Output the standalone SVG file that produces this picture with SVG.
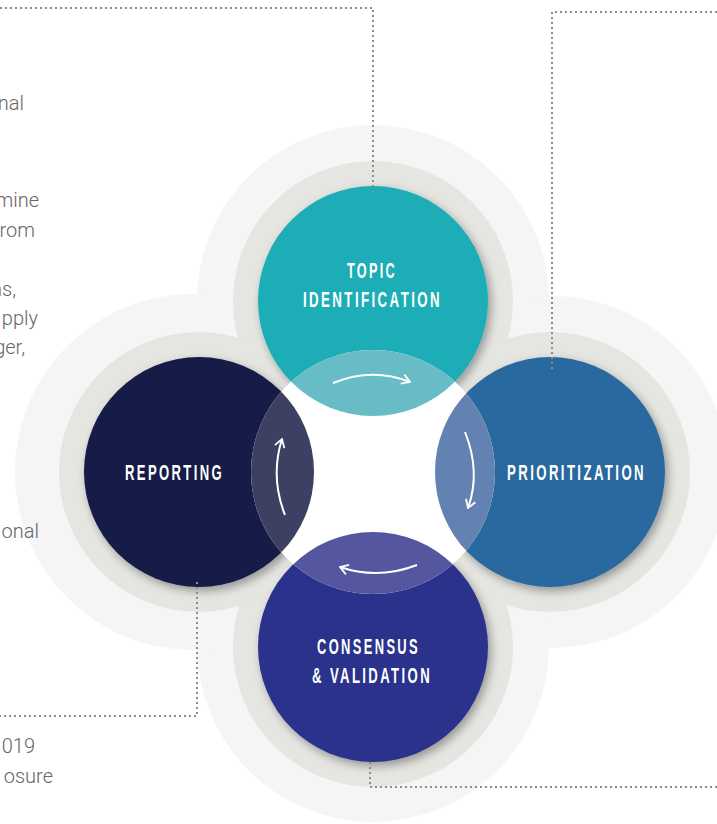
<svg xmlns="http://www.w3.org/2000/svg" width="717" height="824" viewBox="0 0 717 824">
<style>
.outer{fill:#f5f5f5}
.mid{fill:#e5e5e2}
.lbl{font-family:"Liberation Sans",Arial,sans-serif;font-weight:bold;font-size:22px;fill:#ffffff;letter-spacing:4px}
.para{font-family:Roboto,"Liberation Sans",sans-serif;font-weight:300;font-size:20px;fill:#666666}
.dot{fill:none;stroke:#8c8c8c;stroke-width:2;stroke-dasharray:2 3}
.arr{fill:none;stroke:#ffffff;stroke-width:2;marker-end:url(#ah)}
</style>
<defs>
<filter id="sh" x="-20%" y="-20%" width="140%" height="140%">
<feDropShadow dx="3" dy="4" stdDeviation="5" flood-color="#000" flood-opacity="0.35"/>
</filter>
<marker id="ah" viewBox="0 0 10 12" refX="9" refY="6" markerWidth="10" markerHeight="12" markerUnits="userSpaceOnUse" orient="auto">
<path d="M1,1 L9,6 L1,11" fill="none" stroke="#ffffff" stroke-width="1.8"/>
</marker>
<clipPath id="cTop"><circle cx="373" cy="301" r="115"/></clipPath>
<clipPath id="cRight"><circle cx="550" cy="472" r="115"/></clipPath>
<clipPath id="cBottom"><circle cx="373" cy="647" r="115"/></clipPath>
<clipPath id="cLeft"><circle cx="199" cy="472" r="115"/></clipPath>
</defs>
<rect width="717" height="824" fill="#ffffff"/>

<g id="rings">
<circle class="outer" cx="373" cy="301" r="176"/>
<circle class="outer" cx="552" cy="472" r="176"/>
<circle class="outer" cx="373" cy="646" r="176"/>
<circle class="outer" cx="193" cy="472" r="178"/>
<circle class="mid" cx="373" cy="301" r="140"/>
<circle class="mid" cx="550" cy="472" r="140"/>
<circle class="mid" cx="373" cy="647" r="140"/>
<circle class="mid" cx="199" cy="472" r="140"/>
</g>

<g id="paragraph-text">
<text class="para" x="24" y="110" text-anchor="end">nal</text>
<text class="para" x="39" y="207" text-anchor="end">mine</text>
<text class="para" x="35" y="237" text-anchor="end">rom</text>
<text class="para" x="16" y="296" text-anchor="end">ns,</text>
<text class="para" x="38" y="325" text-anchor="end">pply</text>
<text class="para" x="25" y="354" text-anchor="end">ger,</text>
<text class="para" x="39" y="538" text-anchor="end">onal</text>
<text class="para" x="35" y="753" text-anchor="end">019</text>
<text class="para" x="53" y="783" text-anchor="end">osure</text>
</g>

<g id="node-topic">
<circle cx="373" cy="301" r="115" fill="#1eadb7" filter="url(#sh)"/>
<text class="lbl" x="347" y="278" textLength="50" lengthAdjust="spacingAndGlyphs">TOPIC</text>
<text class="lbl" x="303" y="307" textLength="139" lengthAdjust="spacingAndGlyphs">IDENTIFICATION</text>
</g>
<g id="node-prioritization">
<circle cx="550" cy="472" r="115" fill="#2a69a0" filter="url(#sh)"/>
<text class="lbl" x="507" y="480" textLength="139" lengthAdjust="spacingAndGlyphs">PRIORITIZATION</text>
</g>
<g id="node-consensus">
<circle cx="373" cy="647" r="115" fill="#2b338b" filter="url(#sh)"/>
<text class="lbl" x="317" y="654" textLength="103" lengthAdjust="spacingAndGlyphs">CONSENSUS</text>
<text class="lbl" x="312" y="683" textLength="120" lengthAdjust="spacingAndGlyphs">&amp; VALIDATION</text>
</g>
<g id="node-reporting">
<circle cx="199" cy="472" r="115" fill="#121e46" filter="url(#sh)"/>
<text class="lbl" x="125" y="480" textLength="99" lengthAdjust="spacingAndGlyphs">REPORTING</text>
</g>

<g id="center">
<circle cx="373" cy="472" r="122" fill="#ffffff"/>
<circle cx="373" cy="472" r="122" fill="#67bcc5" clip-path="url(#cTop)"/>
<circle cx="373" cy="472" r="122" fill="#6282b1" clip-path="url(#cRight)"/>
<circle cx="373" cy="472" r="122" fill="#5457a0" clip-path="url(#cBottom)"/>
<circle cx="373" cy="472" r="122" fill="#3d4062" clip-path="url(#cLeft)"/>
</g>

<g id="connectors">
<path class="arr" d="M333,383 Q372,367 410,382"/>
<path class="arr" d="M465,432 Q481,472 468,508"/>
<path class="arr" d="M417,565 Q378,580 340,567"/>
<path class="arr" d="M285,515 Q270,477 282,439"/>
<path class="dot" d="M0,8 H373 V193"/>
<path class="dot" d="M717,12 H552 V371"/>
<path class="dot" d="M197,582 V716 H0"/>
<path class="dot" d="M370,762 V787 H717"/>
</g>
</svg>
